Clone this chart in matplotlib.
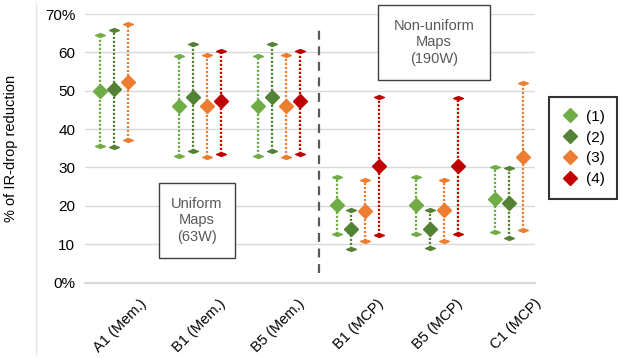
import numpy as np
import matplotlib
matplotlib.use("Agg")
import matplotlib.pyplot as plt
from matplotlib.lines import Line2D
from matplotlib.patches import Rectangle
from matplotlib.path import Path
import matplotlib.transforms as mtransforms

plt.rcParams['font.family'] = ['Liberation Sans', 'DejaVu Sans']

# categories and series (nan = no data)
categories = ["A1 (Mem.)", "B1 (Mem.)", "B5 (Mem.)", "B1 (MCP)", "B5 (MCP)", "C1 (MCP)"]
series_names = ["(1)", "(2)", "(3)", "(4)"]
colors = ["#70AD47", "#548235", "#ED7D31", "#C00000"]

# mean values per series, one entry per category
mean_1 = [50.0, 46.0, 46.0, 20.2, 20.3, 21.7]
mean_2 = [50.5, 48.3, 48.3, 14.0, 14.0, 20.8]
mean_3 = [52.3, 46.1, 46.1, 18.7, 18.8, 32.7]
mean_4 = [np.nan, 47.2, 47.2, 30.5, 30.5, np.nan]

# max values
max_1 = [64.5, 59.0, 59.0, 27.6, 27.6, 30.1]
max_2 = [65.7, 62.1, 62.1, 19.0, 19.0, 29.8]
max_3 = [67.5, 59.4, 59.4, 26.8, 26.8, 52.0]
max_4 = [np.nan, 60.4, 60.4, 48.3, 48.0, np.nan]

# min values
min_1 = [35.5, 33.1, 33.1, 12.7, 12.7, 13.2]
min_2 = [35.2, 34.4, 34.4, 8.8, 9.1, 11.6]
min_3 = [37.1, 32.6, 32.6, 10.8, 10.9, 13.6]
min_4 = [np.nan, 33.6, 33.6, 12.3, 12.7, np.nan]

yticks = [0, 10, 20, 30, 40, 50, 60, 70]
ytick_labels = ["0%", "10", "20", "30", "40", "50", "60", "70%"]

means = [mean_1, mean_2, mean_3, mean_4]
maxs = [max_1, max_2, max_3, max_4]
mins = [min_1, min_2, min_3, min_4]

cap = Path([(-1, 0), (0, 0.4), (1, 0), (0, -0.4), (-1, 0)],
           [Path.MOVETO, Path.LINETO, Path.LINETO, Path.LINETO, Path.CLOSEPOLY])

fig = plt.figure(figsize=(6.22, 3.58), dpi=100)
ax = fig.add_axes([85 / 622, 1 - 282.5 / 358, 450 / 622, 268.5 / 358])

x = np.arange(len(categories))
offsets = [-1.5, -0.5, 0.5, 1.5]
step = 0.177

for i in range(4):
    xs = x + offsets[i] * step
    for j in range(len(categories)):
        if np.isnan(means[i][j]):
            continue
        ax.plot([xs[j], xs[j]], [mins[i][j], maxs[i][j]], color=colors[i],
                lw=1.6, ls=(0, (1, 0.8)), zorder=3)
        ax.plot([xs[j], xs[j]], [mins[i][j], maxs[i][j]], ls='none', marker=cap,
                markersize=7, color=colors[i], zorder=4)
    ax.plot(xs, means[i], ls='none', marker='D', markersize=7.5, color=colors[i], zorder=5)

ax.set_xlim(-0.456, 5.24)
ax.set_ylim(0, 70)
ax.set_yticks(yticks)
ax.set_yticklabels(ytick_labels, fontsize=11)
ax.set_xticks(x)
ax.tick_params(axis='both', length=0)
ax.tick_params(axis='y', pad=7)
ax.tick_params(axis='x', pad=10)
ax.set_xticklabels(categories, fontsize=10.5, rotation=45, ha='right', va='top',
                   rotation_mode='anchor')
# shift the rotated labels to the right, like the original
offset = mtransforms.ScaledTranslation(18 / 100, 0, fig.dpi_scale_trans)
for lbl in ax.get_xticklabels():
    lbl.set_transform(lbl.get_transform() + offset)

ax.grid(axis='y', color='#D9D9D9', lw=1)
ax.set_axisbelow(True)
for s in ['top', 'right', 'left']:
    ax.spines[s].set_visible(False)
ax.spines['bottom'].set_color('#D9D9D9')
ax.spines['bottom'].set_linewidth(1.6)

ax.set_ylabel("% of IR-drop reduction", fontsize=10.5)
ax.yaxis.set_label_coords(-0.149, 0.5)

# separator between uniform and non-uniform groups
ax.plot([2.5, 2.5], [2.5, 66.8], color='#595959', lw=1.6, ls=(0, (4, 3)), zorder=2)

# annotation boxes
ax.add_patch(Rectangle((0.164, 0.091), 0.169, 0.28, transform=ax.transAxes,
                       facecolor='white', edgecolor='#404040', lw=1, zorder=6))
ax.text(0.2485, 0.231, "Uniform\nMaps\n(63W)", transform=ax.transAxes, ha='center',
        va='center', fontsize=10.5, color='#595959', zorder=7, linespacing=1.2)
ax.add_patch(Rectangle((0.651, 0.754), 0.249, 0.2795, transform=ax.transAxes,
                       facecolor='white', edgecolor='#404040', lw=1, zorder=6,
                       clip_on=False))
ax.text(0.7755, 0.894, "Non-uniform\nMaps\n(190W)", transform=ax.transAxes, ha='center',
        va='center', fontsize=10.5, color='#595959', zorder=7, linespacing=1.2)

# faint border line on the left
fig.add_artist(Line2D([36 / 622, 36 / 622], [3 / 358, 355 / 358], color='#E6E6E6', lw=1))

handles = [Line2D([], [], ls='none', marker='D', markersize=7, color=c) for c in colors]
leg = fig.legend(handles, series_names, loc='center left',
                 bbox_to_anchor=(549 / 622, 1 - 148 / 358), fontsize=11,
                 frameon=True, fancybox=False, edgecolor='black', handlelength=1.2,
                 handletextpad=0.4, labelspacing=0.45, borderpad=0.8, borderaxespad=0)
leg.get_frame().set_linewidth(1.5)

fig.savefig("out.png", dpi=100)
